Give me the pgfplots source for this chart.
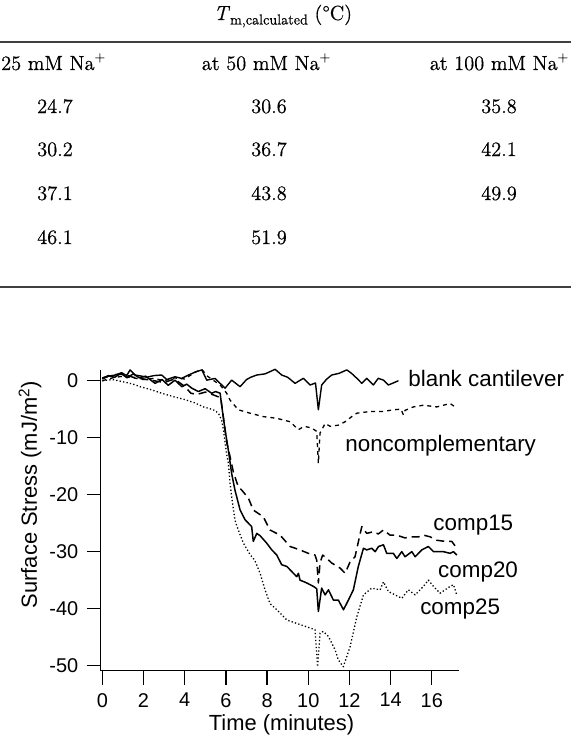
\documentclass[border=0pt]{standalone}
\usepackage{fontspec}
\usepackage{pgfplots}
\pgfplotsset{compat=1.18}
\newfontfamily\arial{Liberation Sans}
\newfontfamily\tabrm{lmroman12-regular.otf}[ItalicFont=lmroman12-italic.otf, FakeBold=0.6]
\newcommand{\tabfont}{\tabrm\fontsize{20.5}{24}\selectfont}
\newcommand{\lblfont}{\arial\fontsize{22.5}{26}\selectfont}
\newcommand{\Na}{Na\raisebox{0.42em}{\fontsize{14}{16}\selectfont +}}
\begin{document}
\begin{tikzpicture}[x=1bp,y=1bp]
\useasboundingbox (0,0) rectangle (571,-737);
% ---- table fragment ----
\draw[line width=1.6bp, black!75] (0,-42) -- (571,-42);
\draw[line width=1.6bp, black!75] (0,-287) -- (571,-287);
\node[anchor=base, font=\tabfont, inner sep=0pt] at (283,-20) {\textit{T}\raisebox{-0.22em}{\fontsize{14.5}{16}\selectfont m,calculated} (\textdegree C)};
\node[anchor=base west, font=\tabfont, inner sep=0pt] at (1,-70) {25 mM \Na};
\node[anchor=base, font=\tabfont, inner sep=0pt] at (266,-70) {at 50 mM \Na};
\node[anchor=base, font=\tabfont, inner sep=0pt] at (499,-70) {at 100 mM \Na};
\node[anchor=base, font=\tabfont, inner sep=0pt] at (55,-113) {24.7};
\node[anchor=base, font=\tabfont, inner sep=0pt] at (269,-113) {30.6};
\node[anchor=base, font=\tabfont, inner sep=0pt] at (499,-113) {35.8};
\node[anchor=base, font=\tabfont, inner sep=0pt] at (55,-156) {30.2};
\node[anchor=base, font=\tabfont, inner sep=0pt] at (269,-156) {36.7};
\node[anchor=base, font=\tabfont, inner sep=0pt] at (499,-156) {42.1};
\node[anchor=base, font=\tabfont, inner sep=0pt] at (55,-200) {37.1};
\node[anchor=base, font=\tabfont, inner sep=0pt] at (269,-200) {43.8};
\node[anchor=base, font=\tabfont, inner sep=0pt] at (499,-200) {49.9};
\node[anchor=base, font=\tabfont, inner sep=0pt] at (55,-244) {46.1};
\node[anchor=base, font=\tabfont, inner sep=0pt] at (269,-244) {51.9};
% ---- chart ----
\begin{axis}[
  at={(100.7bp,-670.7bp)}, anchor=south west,
  scale only axis, width=358.3bp, height=300.7bp,
  xmin=-0.08, xmax=17.32, ymin=-50.9, ymax=1.88,
  axis lines=left,
  axis line style={line width=1.3bp, -},
  tick align=outside, major tick length=14bp,
  tick style={line width=1.3bp, black},
  xtick={0,2,4,6,8,10,12,14,16},
  xticklabels={0,2,4,6,8,10,12,14,16},
  ytick={0,-10,-20,-30,-40,-50},
  yticklabels={0,-10,-20,-30,-40,-50},
  ticklabel style={font=\arial\fontsize{20}{24}\selectfont},
  xticklabel style={yshift=-5bp},
  yticklabel style={xshift=-5bp},
  xlabel={Time (minutes)},
  ylabel={Surface Stress (mJ/m\textsuperscript{2})},
  label style={font=\arial\fontsize{22}{26}\selectfont},
  xlabel style={at={(axis description cs:0.5046,-0.1995)}, anchor=base},
  ylabel style={at={(axis description cs:-0.1778,0.585)}, anchor=base},
  clip=false,
  every axis plot/.append style={no markers, black, line join=round},
]
% blank cantilever
\addplot[line width=1.4bp] coordinates {
(0,0.3) (0.3,0.8) (0.62,1.0) (0.94,1.4) (1.18,0.9) (1.35,1.9) (1.59,1.0) (1.91,0.8)
(2.16,0.6) (2.5,0.9) (2.88,1.0) (3.13,0.2) (3.53,0.7) (3.85,0.4) (4.18,1.0) (4.5,1.5)
(4.83,1.9) (5.07,0.1) (5.47,0.4) (5.8,-0.75) (5.96,-1.3) (6.28,0.1) (6.69,-1.05)
(7.0,0.2) (7.2,0.6) (7.5,1.0) (7.9,1.2) (8.39,2.0) (8.71,1.0) (9.0,0.6) (9.36,-0.46)
(9.76,0.42) (10.09,-0.75) (10.35,-0.4) (10.49,-5.1) (10.65,-0.75) (10.9,0.3)
(11.14,1.0) (11.5,1.3) (11.87,1.9) (12.1,1.3) (12.36,0.42) (12.6,-0.46) (12.84,0.42)
(13.16,-0.75) (13.4,0.42) (13.65,0.1) (13.89,-0.75) (14.06,-0.5) (14.38,0.0)
};
% noncomplementary
\addplot[line width=1.3bp, dash pattern=on 4bp off 4bp] coordinates {
(0,0) (0.5,0.5) (1,0.8) (1.5,0.5) (2,0.2) (2.5,0.4) (3,0.0) (3.5,0.5) (4,0.3)
(4.5,1.5) (4.83,2.0) (5.1,0.8) (5.5,-0.2) (5.72,-0.75) (6.04,-2.2) (6.2,-3.4)
(6.6,-5.1) (7.17,-5.7) (7.82,-6.3) (8.47,-6.6) (9.12,-7.2) (9.52,-8.6) (9.8,-8.0)
(10.17,-8.3) (10.41,-8.9) (10.49,-14.5) (10.57,-9.2) (10.82,-7.5) (11.06,-8.0)
(11.46,-7.8) (11.79,-7.2) (12.11,-6.3) (12.36,-5.7) (13.0,-5.4) (13.65,-5.4)
(14.13,-5.1) (14.5,-5.0) (14.62,-6.0) (14.7,-5.2) (15.1,-4.6) (15.59,-4.3)
(16.24,-4.6) (16.89,-4.0) (17.13,-4.6)
};
% comp15
\addplot[line width=1.5bp, dash pattern=on 8bp off 5bp] coordinates {
(0,0.5) (0.5,1.0) (1,1.2) (1.5,0.6) (2,0.3) (2.5,0.0) (3,-0.3) (3.5,0.3) (4,-1.0)
(4.3,-2.2) (4.6,-2.4) (5,-2.0) (5.4,-2.5) (5.75,-3.0) (5.9,-7.0) (6.05,-11.0)
(6.2,-13.3) (6.36,-16.0) (6.6,-18.6) (6.77,-19.2) (7.09,-20.6) (7.33,-22.7)
(7.82,-23.9) (8.14,-26.2) (8.63,-27.1) (9.12,-29.1) (9.6,-29.7) (10.0,-30.3)
(10.33,-30.6) (10.41,-31.5) (10.49,-35.5) (10.57,-32.0) (10.7,-30.6) (10.9,-31.2)
(11.14,-32.0) (11.55,-32.9) (11.79,-33.8) (12.03,-31.8) (12.27,-30.9) (12.45,-28.0)
(12.6,-25.6) (12.84,-26.8) (13.16,-26.5) (13.4,-26.9) (13.65,-26.2) (13.97,-27.1)
(14.3,-27.1) (14.7,-27.6) (14.95,-27.4) (15.35,-27.4) (15.59,-27.1) (15.92,-27.4)
(16.24,-28.0) (16.64,-28.2) (16.97,-28.2) (17.13,-29.0) (17.25,-28.5)
};
% comp20
\addplot[line width=1.5bp] coordinates {
(0,0.4) (0.3,0.9) (0.6,0.6) (0.9,1.3) (1.2,0.5) (1.5,1.2) (1.8,0.5) (2.1,0.8)
(2.56,-0.46) (2.9,0.2) (3.2,-0.8) (3.53,0.1) (3.86,-1.05) (4.1,-0.6) (4.34,-1.3)
(4.66,-1.9) (4.99,-1.4) (5.31,-2.2) (5.5,-1.9) (5.72,-2.2) (5.8,-4.5) (5.96,-8.65)
(6.12,-12.2) (6.28,-16.3) (6.44,-19.2) (6.69,-22.7) (6.93,-24.4) (7.25,-25.6)
(7.33,-28.2) (7.5,-26.8) (7.66,-27.2) (7.98,-28.5) (8.23,-29.7) (8.47,-30.6)
(8.71,-32.3) (8.96,-32.6) (9.2,-33.5) (9.44,-34.4) (9.52,-33.8) (9.6,-35.0)
(9.93,-35.5) (10.25,-36.1) (10.41,-36.5) (10.49,-40.5) (10.65,-36.4) (10.82,-37.6)
(10.98,-36.7) (11.22,-38.5) (11.46,-38.5) (11.71,-40.2) (11.95,-38.5) (12.19,-36.7)
(12.43,-32.6) (12.68,-29.4) (12.84,-29.7) (13.08,-29.4) (13.25,-30.0) (13.41,-29.1)
(13.65,-28.8) (13.81,-30.3) (14.13,-30.3) (14.3,-31.2) (14.54,-30.0) (14.7,-30.9)
(15.03,-30.0) (15.19,-30.9) (15.51,-29.7) (15.83,-29.1) (16.08,-30.0) (16.56,-30.0)
(16.89,-30.3) (17.05,-30.0) (17.21,-30.6)
};
% comp25
\addplot[line width=1.3bp, dash pattern=on 1.3bp off 2.2bp] coordinates {
(0,0) (0.5,0.2) (1.02,-0.2) (1.5,-0.6) (1.83,-1.05) (2.3,-1.5) (2.8,-2.1) (3.45,-2.8)
(4.0,-3.3) (4.5,-3.9) (4.91,-4.6) (5.3,-5.0) (5.5,-5.3) (5.65,-5.8) (5.8,-7.0)
(5.88,-8.65) (6.04,-13.0) (6.12,-14.5) (6.2,-18.0) (6.28,-20.4) (6.44,-24.5)
(6.6,-26.2) (6.85,-28.5) (7.17,-30.5) (7.4,-31.5) (7.66,-33.8) (7.9,-36.7)
(8.14,-39.1) (8.47,-40.2) (8.96,-42.0) (9.44,-42.6) (10.09,-43.4) (10.33,-43.7)
(10.45,-50.2) (10.57,-44.3) (10.73,-44.0) (10.98,-44.9) (11.3,-47.2) (11.46,-49.0)
(11.7,-50.2) (12.03,-46.7) (12.36,-41.4) (12.68,-37.6) (13.08,-36.4) (13.49,-36.7)
(13.65,-35.3) (13.89,-37.0) (14.22,-37.6) (14.54,-38.2) (14.86,-36.7) (15.19,-37.6)
(15.59,-36.1) (15.83,-35.0) (16.08,-36.1) (16.4,-37.3) (16.89,-36.1) (17.05,-35.8)
(17.21,-37.6)
};
\node[anchor=base west, font=\lblfont, inner sep=0pt] at (axis cs:14.85,-1.1) {blank cantilever};
\node[anchor=base west, font=\lblfont, inner sep=0pt] at (axis cs:11.79,-12.46) {noncomplementary};
\node[anchor=base west, font=\lblfont, inner sep=0pt] at (axis cs:16.07,-26.3) {comp15};
\node[anchor=base west, font=\lblfont, inner sep=0pt] at (axis cs:16.3,-34.6) {comp20};
\node[anchor=base west, font=\lblfont, inner sep=0pt] at (axis cs:15.43,-41.1) {comp25};
\end{axis}
\end{tikzpicture}
\end{document}
